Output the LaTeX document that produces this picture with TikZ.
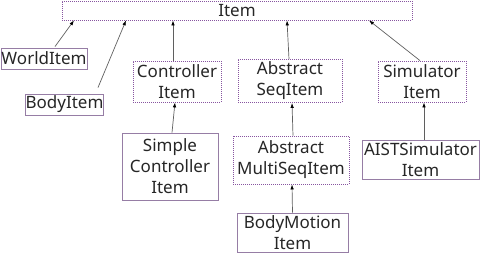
\documentclass[tikz,border=0pt]{standalone}
\usepackage{fontspec}
\setmainfont{Noto Sans}
\usetikzlibrary{arrows.meta, positioning}
\definecolor{FrameGray}{RGB}{150,125,165}
\definecolor{FramePurple}{RGB}{135,85,160}
\definecolor{LineGray}{RGB}{95,95,95}

\begin{document}
\begin{tikzpicture}[x=1pt, y=-1pt,
  cls/.style={draw=FrameGray, line width=0.9pt, inner sep=0pt,
              align=center, text=black!85,
              font=\fontsize{17}{21}\selectfont},
  abstractcls/.style={cls, draw=FramePurple, line width=0.8pt,
                      dash pattern=on 1pt off 1pt},
  inh/.style={-{Latex[length=5pt,width=3.5pt,color=black]},
              LineGray, line width=0.7pt},
]
\useasboundingbox (0,0) rectangle (480,253);

% top level
\node[abstractcls, minimum width=350pt, minimum height=19pt] (item) at (237,10.5) {Item};

% direct subclasses
\node[cls, minimum width=86pt, minimum height=21pt] (world) at (44,58.5) {WorldItem};
\node[cls, minimum width=75pt, minimum height=21pt] (body) at (64.5,104.5) {BodyItem};
\node[abstractcls, minimum width=88pt, minimum height=41pt] (ctrl) at (177,81.5) {Controller\\Item};
\node[abstractcls, minimum width=104pt, minimum height=43pt] (seq) at (290,81) {Abstract\\SeqItem};
\node[abstractcls, minimum width=88pt, minimum height=41pt] (sim) at (422,81.5) {Simulator\\Item};

% second level
\node[cls, minimum width=96pt, minimum height=67pt] (simplectrl) at (170,166.5) {Simple\\Controller\\Item};
\node[abstractcls, minimum width=116pt, minimum height=48pt] (multiseq) at (291,160) {Abstract\\MultiSeqItem};
\node[cls, minimum width=117pt, minimum height=39pt] (aist) at (420.5,159.5) {AISTSimulator\\Item};
\node[cls, minimum width=111pt, minimum height=39pt] (motion) at (292.5,232.5) {BodyMotion\\Item};

% inheritance
\draw[inh] ([xshift=11pt,yshift=1pt]world.north) -- ([xshift=-163pt]item.south);
\draw[inh] ([xshift=33.5pt,yshift=6pt]body.north) -- ([xshift=-111pt]item.south);
\draw[inh] ([xshift=-4pt]ctrl.north) -- ([xshift=-64pt]item.south);
\draw[inh] ([xshift=-1pt]seq.north) -- ([xshift=50pt]item.south);
\draw[inh] ([xshift=-2pt]sim.north) -- ([xshift=132pt]item.south);
\draw[inh] ([xshift=2pt]simplectrl.north) -- ([xshift=-2pt]ctrl.south);
\draw[inh] ([xshift=2pt]multiseq.north) -- ([xshift=2pt]seq.south);
\draw[inh] (motion.north) -- ([xshift=1pt]multiseq.south);
\draw[inh] ([xshift=3.5pt]aist.north) -- ([xshift=2pt]sim.south);
\end{tikzpicture}
\end{document}
